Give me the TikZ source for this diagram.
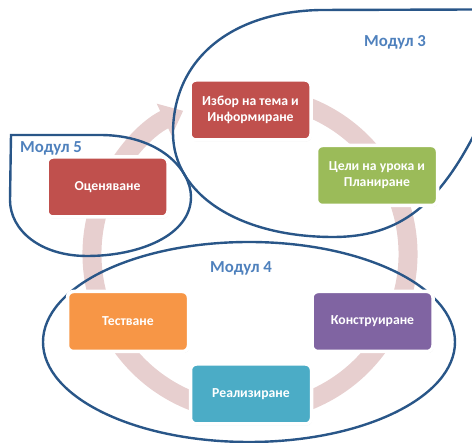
\documentclass[tikz,border=0pt]{standalone}
\usepackage{fontspec}
\setmainfont{Carlito}
\usetikzlibrary{arrows.meta,calc,positioning,shadows}
\definecolor{ringpink}{RGB}{231,207,207}
\definecolor{modblue}{RGB}{41,86,136}
\definecolor{modtext}{RGB}{79,129,189}
\definecolor{sred}{RGB}{192,80,77}
\definecolor{sgreen}{RGB}{155,187,89}
\definecolor{spurple}{RGB}{128,100,162}
\definecolor{scyan}{RGB}{75,172,198}
\definecolor{sorange}{RGB}{247,150,70}
\tikzset{
    cyc/.style={x=1pt,y=1pt},
    stage/.style={rectangle, rounded corners=6pt, draw=white, line width=3.5pt,
                     minimum width=121pt, minimum height=60pt, align=center,
                     text=white, font=\bfseries\fontsize{13.7}{16}\selectfont,
                     drop shadow={opacity=0.25, shadow xshift=0.8pt, shadow yshift=-1.5pt}},
    modul/.style={draw=modblue, line width=2.4pt},
    modlabel/.style={text=modtext, font=\bfseries\fontsize{16.8}{19}\selectfont},
    ring/.style={draw=ringpink, line width=19pt, -{Triangle[width=34pt,length=21pt]}},
    }
\begin{document}
\begin{tikzpicture}[cyc]
            \useasboundingbox (0,0) rectangle (472,443);
            \clip (0,0) rectangle (472,443);
            \coordinate (c) at (250,189);

            % the cycle
            \draw[ring] ($(c)+(70:158pt)$) arc[start angle=70, end angle=-245, radius=158pt];

            % modules
            \draw[modul] (476,433.5) -- (320,433) .. controls (230,431) and (173,383) .. (173,310)
                .. controls (173,248) and (240,206) .. (333,206)
                .. controls (400,206) and (440,238) .. (480,320);
            \draw[modul] (249,101) ellipse [x radius=206pt, y radius=100pt];
            \draw[modul] (11,308) -- (100,308) .. controls (160,308) and (191,273) .. (191,246)
                .. controls (191,208) and (140,187) .. (87,187)
                .. controls (40,187) and (10,213) .. (10,243) -- cycle;

            \node[stage, fill=sred] (izbor) at (250.5,333) {Избор на тема и\\Информиране};
            \node[stage, fill=sgreen] (celi) at (377,267.5) {Цели на урока и\\Планиране};
            \node[stage, fill=spurple] (konstr) at (372.5,121.5) {Конструиране};
            \node[stage, fill=scyan] (realiz) at (251,49) {Реализиране};
            \node[stage, fill=sorange] (test) at (128,121.5) {Тестване};
            \node[stage, fill=sred] (ocen) at (107.5,256) {Оценяване};

            \node[modlabel] (m3) at (395,401) {Модул 3};
            \node[modlabel] (m4) at (241,175) {Модул 4};
            \node[modlabel] (m5) at (51,295) {Модул 5};
        \end{tikzpicture}
\end{document}
